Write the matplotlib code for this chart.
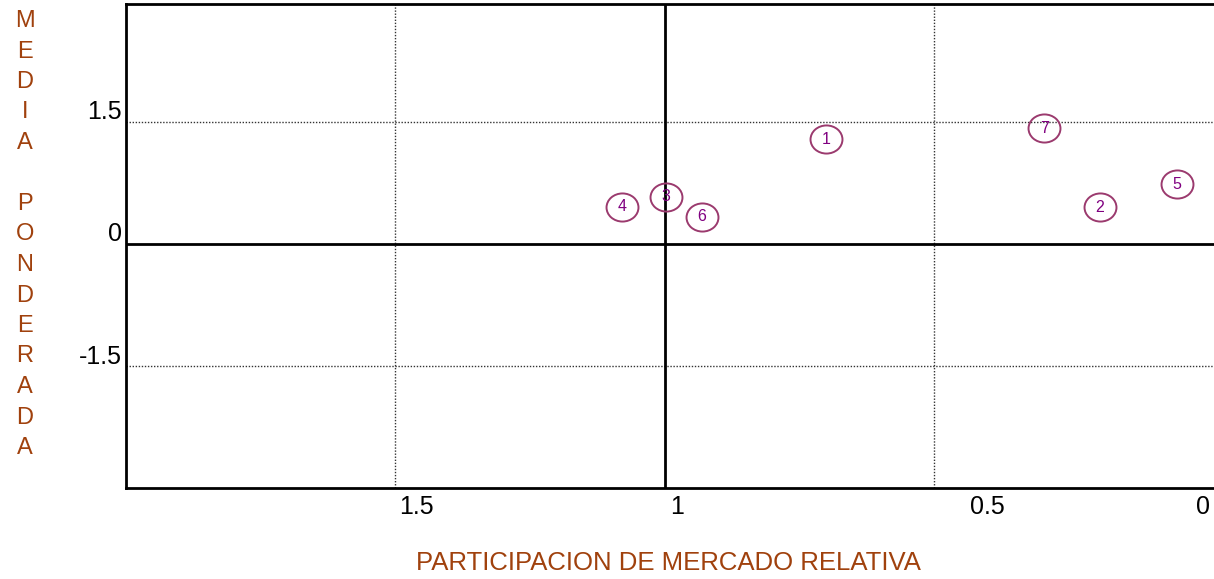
import matplotlib
matplotlib.use("Agg")
import matplotlib.pyplot as plt
from matplotlib.path import Path
from matplotlib.transforms import Affine2D, ScaledTranslation

plt.rcParams['font.family'] = ['Liberation Sans', 'DejaVu Sans']

# productos: participacion de mercado relativa vs media ponderada
productos = ['1', '2', '3', '4', '5', '6', '7']
participacion = [0.701, 0.193, 0.998, 1.080, 0.050, 0.932, 0.296]
media = [1.28, 0.45, 0.58, 0.457, 0.73, 0.334, 1.416]

x_ticks = [1.5, 1.0, 0.5, 0.0]
x_tick_labels = ['1.5', '1', '0.5', '0']
x_label_offset = [21, 12, 53, -1]  # px
y_ticks = [1.5, 0.0, -1.5]
y_tick_labels = ['1.5', '0', '-1.5']

color_titulo = '#A0410D'
color_borde = '#9B3A6E'
color_num = '#800080'

fig = plt.figure(figsize=(12.14, 5.79), dpi=100)
ax = fig.add_axes([126 / 1214, 1 - 488 / 579, 1 - 126 / 1214, (488 - 4) / 579])
ax.set_xlim(2, -0.019)
ax.set_ylim(-2.99, 2.94)

# rejilla punteada
for gx in [1.5, 0.5]:
    ax.axvline(gx, color='#333333', lw=1.0, ls=(0, (1, 1.2)), zorder=1)
for gy in [1.5, -1.5]:
    ax.axhline(gy, color='#333333', lw=1.0, ls=(0, (1, 1.2)), zorder=1)

# ejes centrales
ax.axvline(1.0, color='black', lw=2, zorder=2)
ax.axhline(0.0, color='black', lw=2, zorder=2)

for s in ['left', 'top', 'bottom']:
    ax.spines[s].set_linewidth(2)
ax.spines['right'].set_visible(False)

ax.set_xticks(x_ticks)
ax.set_xticklabels(x_tick_labels, fontsize=18)
ax.set_yticks(y_ticks)
ax.set_yticklabels(y_tick_labels, fontsize=18)
ax.tick_params(length=0)
ax.tick_params(axis='x', pad=5)
ax.tick_params(axis='y', pad=3)

for lab, dx in zip(ax.get_xticklabels(), x_label_offset):
    lab.set_transform(lab.get_transform() + ScaledTranslation(dx / 100, 0, fig.dpi_scale_trans))
for lab in ax.get_yticklabels():
    lab.set_transform(lab.get_transform() + ScaledTranslation(0, 12 / 100, fig.dpi_scale_trans))

# marcadores elipticos con numero
elipse = Path.unit_circle().transformed(Affine2D().scale(1.0, 0.88))
ax.plot(participacion, media, ls='none', marker=elipse, markersize=23,
        markerfacecolor='none', markeredgecolor=color_borde, markeredgewidth=1.4, zorder=3)
for p, x, y in zip(productos, participacion, media):
    ax.text(x, y, p, ha='center', va='center', fontsize=11.5, color=color_num, zorder=4)

# titulos
fig.text(668 / 1214, 1 - 563 / 579, 'PARTICIPACION DE MERCADO RELATIVA',
         ha='center', va='center', fontsize=18.5, color=color_titulo)
letras = list('MEDIA PONDERADA')
for i, c in enumerate(letras):
    fig.text(25 / 1214, 1 - (21 + i * 30.5) / 579, c, ha='center', va='center',
             fontsize=17, color=color_titulo)

fig.savefig('out.png', dpi=100)
